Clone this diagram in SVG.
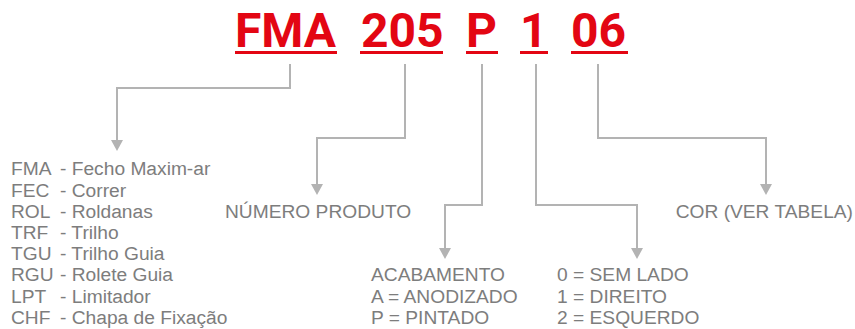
<svg xmlns="http://www.w3.org/2000/svg" width="855" height="329" viewBox="0 0 855 329">
<defs>
<style>
.code{font-family:Roboto,"Liberation Sans",Arial,sans-serif;font-weight:700;font-size:48px;fill:#e30613}
.ul{fill:#e30613}
.t{font-family:"Liberation Sans",Arial,Helvetica,sans-serif;font-size:19.2px;fill:#7d7d7d}
.ln{fill:none;stroke:#b3b3b3;stroke-width:2}
.ah{fill:#b3b3b3}
</style>
</defs>
<rect width="855" height="329" fill="#ffffff"/>

<g id="code-fma"><text class="code" x="235" y="47">FMA</text><rect class="ul" x="235" y="51" width="102" height="3"/></g>
<g id="code-205"><text class="code" x="361" y="47">205</text><rect class="ul" x="360" y="51" width="83" height="3"/></g>
<g id="code-p"><text class="code" x="466" y="47">P</text><rect class="ul" x="466" y="51" width="32" height="3"/></g>
<g id="code-1"><text class="code" x="520" y="47">1</text><rect class="ul" x="520" y="51" width="28" height="3"/></g>
<g id="code-06"><text class="code" x="571" y="47">06</text><rect class="ul" x="571" y="51" width="57" height="3"/></g>

<g id="connectors">
<path class="ln" d="M290,64 V88 H117 V140"/>
<path class="ah" d="M111,140 L123,140 L117,151 Z"/>
<path class="ln" d="M405,64 V138 H317 V184"/>
<path class="ah" d="M311,184 L323,184 L317,195 Z"/>
<path class="ln" d="M482,64 V205 H445 V248"/>
<path class="ah" d="M439,248 L451,248 L445,259 Z"/>
<path class="ln" d="M536,64 V205 H637 V248"/>
<path class="ah" d="M631,248 L643,248 L637,259 Z"/>
<path class="ln" d="M598,64 V138 H766 V184"/>
<path class="ah" d="M760,184 L772,184 L766,195 Z"/>
</g>

<g id="desc-tipo">
<text class="t" x="11" y="175.3">FMA</text><text class="t" x="60" y="175.3">- Fecho Maxim-ar</text>
<text class="t" x="11" y="196.5">FEC</text><text class="t" x="60" y="196.5">- Correr</text>
<text class="t" x="11" y="217.7">ROL</text><text class="t" x="60" y="217.7">- Roldanas</text>
<text class="t" x="11" y="238.9">TRF</text><text class="t" x="60" y="238.9">- Trilho</text>
<text class="t" x="11" y="260.1">TGU</text><text class="t" x="60" y="260.1">- Trilho Guia</text>
<text class="t" x="11" y="281.3">RGU</text><text class="t" x="60" y="281.3">- Rolete Guia</text>
<text class="t" x="11" y="302.5">LPT</text><text class="t" x="60" y="302.5">- Limitador</text>
<text class="t" x="11" y="323.7">CHF</text><text class="t" x="60" y="323.7">- Chapa de Fixação</text>
</g>

<g id="desc-numero"><text class="t" x="225" y="217.7">NÚMERO PRODUTO</text></g>

<g id="desc-acabamento">
<text class="t" x="371" y="281.3">ACABAMENTO</text>
<text class="t" x="371" y="302.5">A = ANODIZADO</text>
<text class="t" x="371" y="323.7">P = PINTADO</text>
</g>

<g id="desc-lado">
<text class="t" x="557" y="281.3">0 = SEM LADO</text>
<text class="t" x="557" y="302.5">1 = DIREITO</text>
<text class="t" x="557" y="323.7">2 = ESQUERDO</text>
</g>

<g id="desc-cor"><text class="t" x="853" y="217.7" text-anchor="end">COR (VER TABELA)</text></g>
</svg>
